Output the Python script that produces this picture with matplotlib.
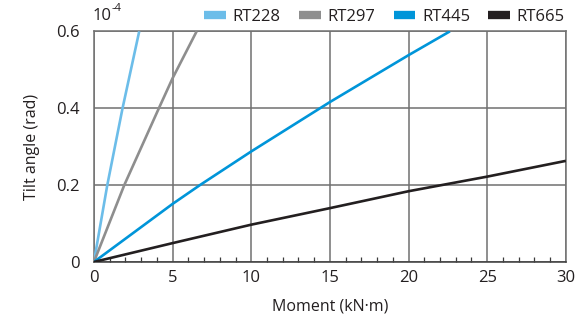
import matplotlib
matplotlib.use("Agg")
import matplotlib.pyplot as plt
from matplotlib.ticker import MultipleLocator, FuncFormatter
from matplotlib.lines import Line2D

plt.rcParams['font.family'] = ['Open Sans', 'DejaVu Sans']

# values (moment kN·m, tilt angle x1e-4 rad)
rt228_x = [0, 0.85, 1.82, 2.88]
rt228_y = [0, 0.2, 0.4, 0.6]
rt297_x = [0, 1.93, 4.13, 5.0, 6.53]
rt297_y = [0, 0.2, 0.4, 0.478, 0.6]
rt445_x = [0, 5.0, 6.74, 10.0, 15.0, 20.0, 22.63]
rt445_y = [0, 0.151, 0.2, 0.2875, 0.416, 0.538, 0.6]
rt665_x = [0, 5, 10, 15, 20, 25, 30]
rt665_y = [0, 0.049, 0.097, 0.140, 0.184, 0.222, 0.263]

names = ["RT228", "RT297", "RT445", "RT665"]
colours = ["#6cbde9", "#8e8e8e", "#0095d9", "#231f20"]
series = [(rt228_x, rt228_y), (rt297_x, rt297_y), (rt445_x, rt445_y), (rt665_x, rt665_y)]

grey = "#707070"
txt = "#231f20"

fig = plt.figure(figsize=(5.87, 3.23), dpi=100)
ax = fig.add_axes([0.160, 0.189, 0.804, 0.714])

for (xs, ys), c in zip(series, colours):
    ax.plot(xs, ys, color=c, lw=1.9, solid_capstyle='butt', zorder=3)

ax.set_xlim(0, 30)
ax.set_ylim(0, 0.6)
ax.xaxis.set_major_locator(MultipleLocator(5))
ax.xaxis.set_minor_locator(MultipleLocator(1))
ax.yaxis.set_major_locator(MultipleLocator(0.2))
ax.yaxis.set_major_formatter(FuncFormatter(lambda v, p: "0" if abs(v) < 1e-9 else "%.1f" % v))

ax.grid(True, which='major', color=grey, lw=1.1)
for s in ax.spines.values():
    s.set_color(grey)
    s.set_linewidth(1.1)
ax.spines['bottom'].set_color("#3a3a3a")

ax.tick_params(axis='both', which='major', length=0, labelsize=12, labelcolor=txt, pad=6)
ax.tick_params(axis='x', which='minor', direction='in', length=3.5, width=0.9, color="#3a3a3a")
ax.tick_params(axis='y', which='major', pad=10)

ax.set_xlabel("Moment (kN·m)", fontsize=11.5, color=txt, labelpad=9)
ax.set_ylabel("Tilt angle (rad)", fontsize=11.5, color=txt, labelpad=12)

# scale note "10^-4" above the y axis
fig.text(0.158, 0.925, "10", fontsize=12, color=txt, ha='left', va='bottom')
fig.text(0.190, 0.957, "-4", fontsize=8, color=txt, ha='left', va='bottom')

handles = [Line2D([], [], color=c, lw=6, solid_capstyle='butt') for c in colours]
fig.legend(handles, names, ncol=4, frameon=False, loc='upper right',
           bbox_to_anchor=(0.988, 1.02), fontsize=12, handlelength=1.3,
           handletextpad=0.4, columnspacing=1.1, labelcolor=txt)

fig.savefig("out.png", dpi=100)
